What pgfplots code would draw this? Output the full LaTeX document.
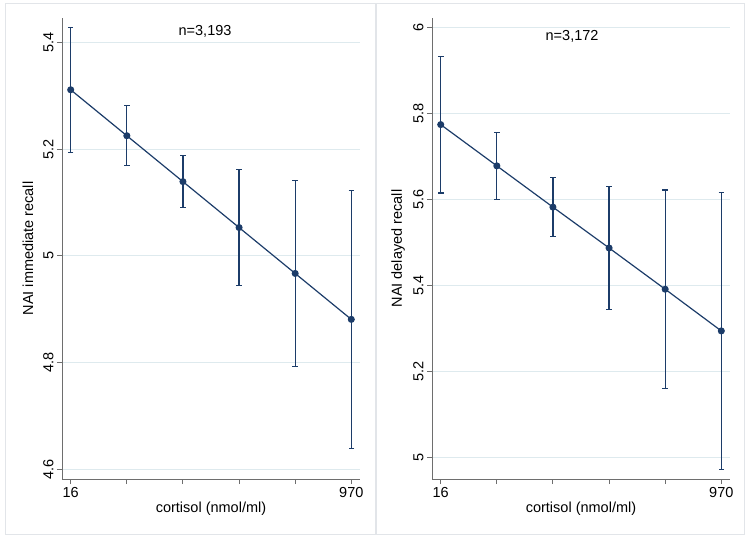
\documentclass[border=0pt]{standalone}
\usepackage{pgfplots}
\pgfplotsset{compat=1.18}
\usepackage{fontspec}
\setmainfont{Liberation Sans}
\definecolor{statanavy}{RGB}{28,60,105}
\definecolor{gridc}{RGB}{222,234,238}
\definecolor{framec}{RGB}{226,229,233}
\definecolor{axisc}{RGB}{110,110,110}
\pgfplotsset{
  panel/.style={
    scale only axis, width=298pt, height=461pt, anchor=south west,
    xmin=-0.155, xmax=5.155,
    axis x line=bottom, axis y line=left,
    axis line style={-, axisc, line width=0.9pt},
    tick style={axisc, line width=0.9pt},
    tick align=outside, major tick length=5pt,
    xtick={0,1,2,3,4,5}, xticklabels={16,,,,,970},
    ymajorgrids, grid style={gridc, line width=0.8pt},
    /pgf/number format/assume math mode=true,
    tick label style={font=\fontsize{14.5}{16}\selectfont, black},
    yticklabel style={rotate=90, anchor=south},
    every axis x label/.style={at={(axis description cs:0.5,-0.065)}, anchor=center, font=\fontsize{14.5}{16}\selectfont},
    every axis y label/.style={at={(axis description cs:-0.114,0.5)}, rotate=90, anchor=center, font=\fontsize{14.5}{16}\selectfont},
    xlabel={cortisol (nmol/ml)},
  },
  ser/.style={statanavy, line width=1.2pt, mark=*, mark size=2.9pt,
    mark options={solid, fill=statanavy},
    error bars/.cd, y dir=both, y explicit, error mark=|,
    error bar style={statanavy, line width=1.2pt},
    error mark options={statanavy, line width=1.2pt, mark size=2.8pt}},
}
\begin{document}
\begin{tikzpicture}[x=1pt,y=1pt]
\path[use as bounding box] (0,0) rectangle (749,546);
\draw[framec, line width=0.8pt] (5,12) rectangle (375,543);
\draw[framec, line width=0.8pt] (376,12) rectangle (744,543);
\begin{axis}[panel, at={(62pt,67pt)},
  ymin=4.582, ymax=5.4455,
  ytick={4.6,4.8,5,5.2,5.4}, yticklabels={4.6,4.8,5,5.2,5.4},
  ylabel={NAI immediate recall}]
\addplot+[ser] coordinates {
  (0,5.311) +- (0,0.117)
  (1,5.225) +- (0,0.056)
  (2,5.139) +- (0,0.049)
  (3,5.053) +- (0,0.108)
  (4,4.967) +- (0,0.174)
  (5,4.881) +- (0,0.242)
};
\node[font=\fontsize{14.5}{16}\selectfont] at (axis description cs:0.48,0.972) {n=3,193};
\end{axis}
\begin{axis}[panel, at={(432pt,67pt)},
  ymin=4.9495, ymax=6.022,
  ytick={5,5.2,5.4,5.6,5.8,6}, yticklabels={5,5.2,5.4,5.6,5.8,6},
  ylabel={NAI delayed recall}]
\addplot+[ser] coordinates {
  (0,5.774) +- (0,0.159)
  (1,5.678) +- (0,0.078)
  (2,5.582) +- (0,0.068)
  (3,5.487) +- (0,0.143)
  (4,5.391) +- (0,0.231)
  (5,5.294) +- (0,0.322)
};
\node[font=\fontsize{14.5}{16}\selectfont] at (axis description cs:0.47,0.96) {n=3,172};
\end{axis}
\end{tikzpicture}
\end{document}
